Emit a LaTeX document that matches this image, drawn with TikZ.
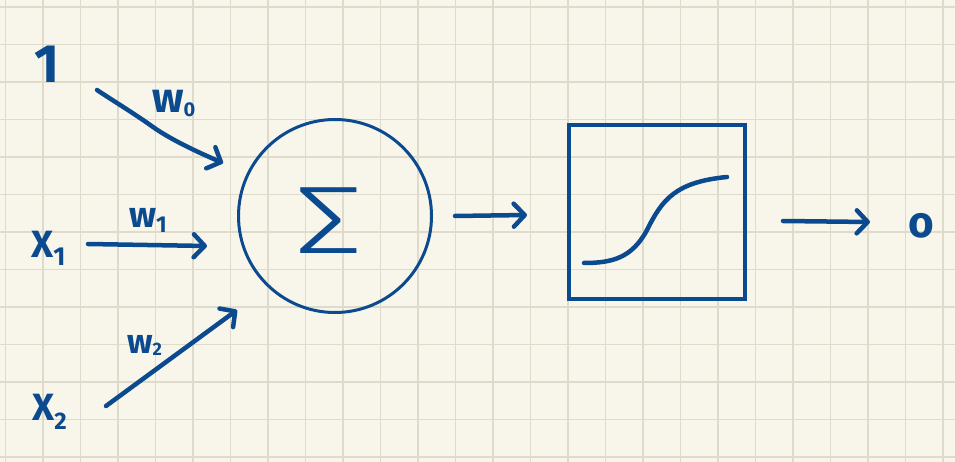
\documentclass[tikz,border=0pt]{standalone}
\usepackage{fontspec}
\setmainfont{Fira Sans}
\IfFontExistsTF{Fira Sans Light}{\newfontfamily\sigfont{Fira Sans Light}}{\newfontfamily\sigfont{Liberation Sans}}
\usetikzlibrary{arrows.meta}
\definecolor{ink}{HTML}{0B4A8E}
\definecolor{paper}{HTML}{F8F6EB}
\definecolor{gridc}{HTML}{DEDBCB}
\newcommand{\fs}[1]{\fontsize{#1}{#1}\selectfont}
\begin{document}
\begin{tikzpicture}[x=1pt,y=-1pt,
  conn/.style={draw=ink, line width=4.5pt, line cap=round, line join=round,
    -{Straight Barb[length=11pt,width=23pt,round]}},
  lbl/.style={text=ink, inner sep=0pt, anchor=base west, font=\bfseries},
  gridline/.style={draw=gridc, line width=1.5pt},
  curve/.style={draw=ink, line width=4.5pt, line cap=round, line join=round}]
\useasboundingbox (0,0) rectangle (955,462);
\fill[paper] (0,0) rectangle (955,462);
\foreach \i in {0,...,25} \draw[gridline] ({5.5+37.5*\i},0) -- ++(0,462);
\foreach \j in {0,...,12} \draw[gridline] (0,{7+37.5*\j}) -- ++(955,0);

% labels
\node[text=ink, inner sep=0pt, anchor=base, font=\bfseries\fs{54}] (one) at (47,83) {1};
\node[lbl] (x1) at (31,258) {\fs{38}X\raisebox{-8pt}{\fs{26}1}};
\node[lbl] (x2) at (32,420) {\fs{38}X\raisebox{-9pt}{\fs{24}2}};
\node[lbl] (w0) at (152,113) {\fs{42}w\raisebox{-4pt}{\fs{20}0}};
\node[lbl] (w1) at (129,228) {\fs{36}w\raisebox{-5pt}{\fs{23}1}};
\node[lbl] (w2) at (127,353) {\fs{34}w\raisebox{-2pt}{\fs{18}2}};
\node[text=ink, inner sep=0pt, anchor=base, font=\bfseries\fs{44}] (out) at (921.5,238) {o};

% neuron and activation
\node[draw=ink, line width=3pt, circle, minimum size=193pt, inner sep=0pt] (sum) at (335,216) {};
\node[text=ink, inner sep=0pt, anchor=base, font=\sigfont\fs{96}] (sigma) at (328.5,254) {\scalebox{1.45}[1]{Σ}};
\node[draw=ink, line width=4pt, minimum width=176pt, minimum height=174pt, inner sep=0pt] (act) at (657,212) {};

% connector end points
\coordinate (a0s) at (97,90);   \coordinate (a0e) at (223,163);
\coordinate (a1s) at (88,244);  \coordinate (a1e) at (207,246);
\coordinate (a2s) at (106,406); \coordinate (a2e) at (237,310);
\coordinate (a3s) at (455,216); \coordinate (a3e) at (527,215);
\coordinate (a4s) at (783,221); \coordinate (a4e) at (870,222);

\draw[conn] (a0s) .. controls (115,102) and (135,114) .. (153,127) .. controls (170,139) and (195,151) .. (a0e);
\draw[conn] (a1s) -- (a1e);
\draw[conn] (a2s) -- (a2e);
\draw[conn] (a3s) -- (a3e);
\draw[conn] (a4s) -- (a4e);

% sigmoid
\draw[curve] (584,263) .. controls (612,263) and (632,258) .. (647,230) .. controls (662,200) and (675,182) .. (727,177);
\end{tikzpicture}
\end{document}
